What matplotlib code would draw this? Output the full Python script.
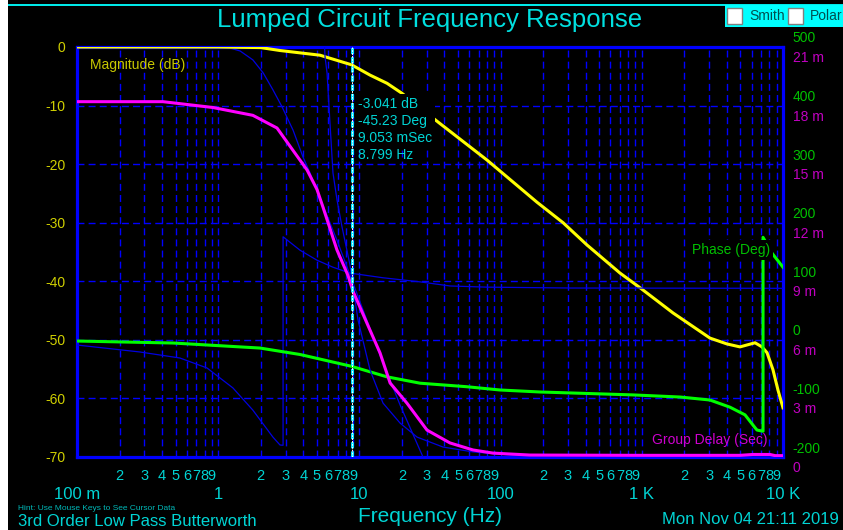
import matplotlib
matplotlib.use("Agg")
import matplotlib.pyplot as plt
import matplotlib.transforms as mtransforms
from matplotlib.patches import Rectangle

plt.rcParams["font.family"] = ["Liberation Sans", "DejaVu Sans"]

# yellow trace: magnitude in dB
mag_freq = [0.1, 1.0, 2.0, 2.74, 5.26, 8.8, 11.9, 15.7, 20.0, 36.0, 80.1, 181, 277, 409,
            701, 971, 1663, 3040, 4012, 4958, 6340, 7100, 7710, 8490, 9220, 10000]
mag_db = [0, 0, -0.1, -0.6, -1.4, -3.04, -4.8, -6.2, -7.9, -12.8, -19.3, -26.5, -30.0, -33.8,
          -38.6, -41.1, -45.4, -49.7, -50.7, -51.2, -50.5, -51.2, -52.2, -55.1, -58.6, -61.6]

# green trace: phase in degrees (wraps near 7 kHz)
ph_freq = [0.1, 0.479, 1.98, 3.80, 8.8, 15.6, 26.9, 57.5, 99, 190, 867, 1866, 3040, 4216,
           5380, 6340, 6546, 7220, 7220, 8360, 10000]
ph_deg = [-2, -5.4, -14, -25, -45.2, -63, -74, -80, -85.6, -89, -94, -97.6, -102.7, -115,
          -128, -150, -154, -156, 175, 148, 124]

# magenta trace: group delay in ms
gd_freq = [0.1, 0.406, 0.919, 1.76, 2.61, 3.39, 4.26, 5.01, 5.52, 6.94, 8.3, 9.0, 11.3, 14.0,
           16.5, 21.7, 30.1, 43.8, 63.8, 88.3, 161, 1000, 4960, 6130, 8090, 8800, 10000]
gd_ms = [18.2, 18.2, 17.9, 17.5, 16.85, 15.7, 14.7, 13.7, 12.8, 10.6, 9.3, 8.5, 6.86, 5.33,
         3.79, 2.76, 1.38, 0.72, 0.36, 0.20, 0.10, 0.085, 0.085, 0.13, 0.13, 0.07, 0.07]

# blue reference traces
ref_mag_freq = [0.1, 1.03, 1.21, 1.43, 1.76, 2.08, 2.44, 2.83, 3.39, 3.99, 4.47, 5.26, 6.94,
                8.57, 10.96, 14.0, 19.4, 28.2, 37.2]
ref_mag_db = [0, 0, -0.17, -0.68, -2.2, -4.4, -7.3, -10.2, -14.2, -18.8, -21.5, -25.8, -33.0,
              -38.9, -45.8, -52.6, -61.1, -70, -75]
ref_ph_freq = [0.1, 0.279, 0.536, 0.833, 1.27, 1.76, 2.44, 2.74, 2.88, 2.88, 3.80, 5.01, 6.50,
               8.57, 14.7, 26.9, 43.8, 80, 310, 10000]
ref_ph_deg = [-8.8, -20.7, -31, -48, -82, -120, -166, -179.5, -180, 176, 153, 136, 124,
              114, 106, 99, 92, 90, 88.5, 88]
ref_gd_freq = [4.93, 5.71, 5.90, 6.19, 6.50, 6.94, 7.53, 8.57, 9.77, 11.9, 14.7, 19.4, 25.6,
               39.1, 63.8, 137, 10000]
ref_gd_ms = [30, 20.5, 19.67, 17.1, 14.55, 13.17, 11.79, 9.85, 7.03, 4.45, 2.76, 1.74, 1.02,
             0.51, 0.26, 0.05, 0.03]

major_f = [0.1, 1, 10, 100, 1000, 10000]
major_lbl = ["100 m", "1", "10", "100", "1 K", "10 K"]
db_ticks = [0, -10, -20, -30, -40, -50, -60, -70]
ph_ticks = [500, 400, 300, 200, 100, 0, -100, -200]
gd_ticks = [21, 18, 15, 12, 9, 6, 3, 0]
cursor_f = 8.799

W, H = 843, 530
BLUE = "#0000ff"
CYAN = "#00d4d4"


def fx(px):
    return px / W


def fy(py):
    return 1 - py / H


fig = plt.figure(figsize=(W / 100, H / 100), dpi=100, facecolor="black")
ax = fig.add_axes([fx(77), fy(457), fx(783) - fx(77), fy(47) - fy(457)])
ax.set_facecolor("black")
ax.set_xscale("log")
ax.set_xlim(0.1, 10000)
ax.set_ylim(-70, 0)

ax_ph = ax.twinx()
ax_ph.set_ylim(-200, 500)
ax_gd = ax.twinx()
ax_gd.set_ylim(0, 21)

for a in (ax, ax_ph, ax_gd):
    for s in a.spines.values():
        s.set_visible(a is ax)
        s.set_color(BLUE)
        s.set_linewidth(2.3)

# grid
minor_f = [m * d for d in [0.1, 1, 10, 100, 1000] for m in range(2, 10)]
minor_lbl = [str(m) for d in [0.1, 1, 10, 100, 1000] for m in range(2, 10)]
ax.set_xticks(major_f, labels=major_lbl)
ax.set_xticks(minor_f, labels=minor_lbl, minor=True)
ax.set_yticks(db_ticks, labels=[str(v) for v in db_ticks])
ax.grid(True, which="both", axis="x", color=BLUE, ls=(0, (5, 3)), lw=1)
ax.grid(True, which="major", axis="y", color=BLUE, ls=(0, (5, 3)), lw=1)
ax.tick_params(axis="x", which="major", length=0, pad=21.5, labelsize=12, labelcolor=CYAN)
ax.tick_params(axis="x", which="minor", length=0, pad=8.5, labelsize=10.5, labelcolor=CYAN)
ax.tick_params(axis="y", length=0, pad=8.5, labelsize=10, labelcolor="#d0d000")

ax_ph.set_yticks(ph_ticks, labels=[str(v) for v in ph_ticks])
ax_ph.tick_params(axis="y", length=0, pad=7, labelsize=10, labelcolor="#00c000")
ax_gd.set_yticks(gd_ticks, labels=[("%d m" % v) if v else "0" for v in gd_ticks])
ax_gd.tick_params(axis="y", length=0, pad=7, labelsize=10, labelcolor="#c000c0")

up = mtransforms.ScaledTranslation(0, 0.10, fig.dpi_scale_trans)
down = mtransforms.ScaledTranslation(0, -0.095, fig.dpi_scale_trans)
for lab in ax_ph.get_yticklabels():
    lab.set_transform(lab.get_transform() + up)
for lab in ax_gd.get_yticklabels():
    lab.set_transform(lab.get_transform() + down)

# curves
ax.plot(ref_mag_freq, ref_mag_db, color="#0000e0", lw=0.9, zorder=3)
ax.plot(mag_freq, mag_db, color="#ffff00", lw=2.2, zorder=3)
ax_ph.plot(ref_ph_freq, ref_ph_deg, color="#0000e0", lw=0.9, zorder=3)
ax_ph.plot(ph_freq, ph_deg, color="#00ff00", lw=2.2, zorder=3)
ax_gd.plot(ref_gd_freq, ref_gd_ms, color="#0000e0", lw=0.9, zorder=3)
ax_gd.plot(gd_freq, gd_ms, color="#ff00ff", lw=2.2, zorder=3)

# cursor
ax_gd.axvline(cursor_f, color="#00e0ff", lw=2.2, ls=(0, (2, 1)), zorder=4)
ax_gd.axvline(cursor_f, color="white", lw=0.7, ls=(0, (2, 1)), zorder=4)

box = dict(facecolor="black", edgecolor="none", pad=2)
fig.text(fx(358), fy(97), "-3.041 dB\n-45.23 Deg\n9.053 mSec", color=CYAN, fontsize=10,
         ha="left", va="top", linespacing=1.25, bbox=box)
fig.text(fx(358), fy(155), "8.799 Hz", color=CYAN, fontsize=10, ha="left", va="center")

fig.text(fx(90), fy(65), "Magnitude (dB)", color="#c8c800", fontsize=10, va="center")
fig.text(fx(692), fy(250), "Phase (Deg)", color="#00c000", fontsize=10, va="center", bbox=box)
fig.text(fx(652), fy(440), "Group Delay (Sec)", color="#d000d0", fontsize=10, va="center")

# surrounding texts
fig.text(fx(430), fy(20), "Lumped Circuit Frequency Response", color="#00e0e0", fontsize=18.5,
         ha="center", va="center")
fig.text(fx(430), fy(516), "Frequency (Hz)", color=CYAN, fontsize=15, ha="center", va="center")
fig.text(fx(18), fy(508), "Hint: Use Mouse Keys to See Cursor Data", color="#00b8b8",
         fontsize=6, ha="left", va="center")
fig.text(fx(18), fy(521), "3rd Order Low Pass Butterworth", color=CYAN, fontsize=12,
         ha="left", va="center")
fig.text(fx(839), fy(520), "Mon Nov 04 21:11 2019", color=CYAN, fontsize=12,
         ha="right", va="center")

# window decorations
fig.patches.append(Rectangle((0, 0), fx(8), 1, transform=fig.transFigure,
                             facecolor="white", edgecolor="none"))
fig.patches.append(Rectangle((fx(8), fy(6)), 1, 2 / H, transform=fig.transFigure,
                             facecolor="#00e8e8", edgecolor="none"))
fig.patches.append(Rectangle((fx(725), fy(27)), fx(118), 22 / H, transform=fig.transFigure,
                             facecolor="#00ffff", edgecolor="none"))
for cx in (727, 788):
    fig.patches.append(Rectangle((fx(cx), fy(24)), fx(15), 16 / H, transform=fig.transFigure,
                                 facecolor="white", edgecolor="#808080", lw=1))
fig.text(fx(749), fy(16), "Smith", color="#005050", fontsize=10, va="center")
fig.text(fx(810), fy(16), "Polar", color="#005050", fontsize=10, va="center")

fig.savefig("out.png", dpi=100, facecolor="black")
